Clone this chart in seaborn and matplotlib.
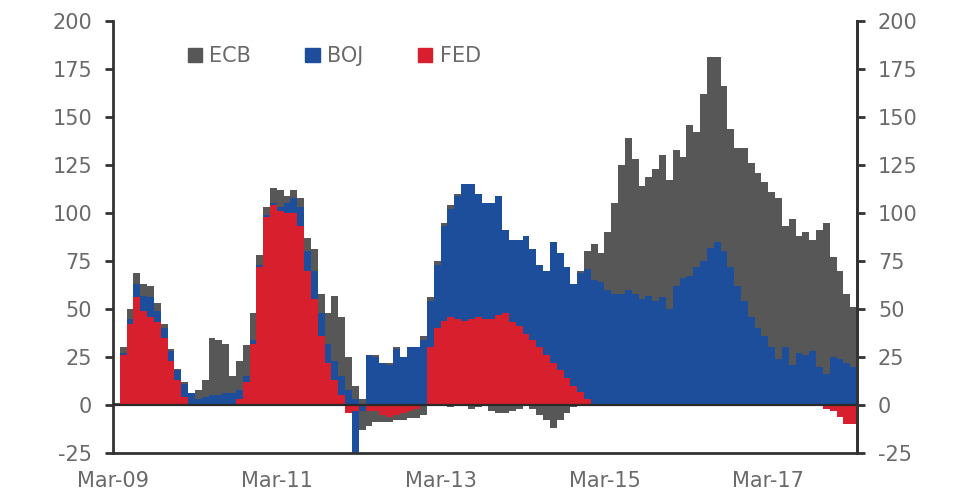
import numpy as np
import pandas as pd
import matplotlib
matplotlib.use("Agg")
import matplotlib.pyplot as plt
import seaborn as sns
from matplotlib.patches import Patch

# monthly bars, Mar-09 .. Mar-18
months = pd.date_range("2009-03-01", "2018-03-01", freq="MS")

# positive contributions
fed_pos = [0, 26, 42, 56, 49, 46, 43, 35, 23, 13, 4, 0,
           0, 0, 0, 0, 0, 0, 3, 12, 32, 72, 98, 104,
           101, 100, 100, 93, 70, 55, 36, 22, 13, 5, 0, 0,
           0, 0, 0, 0, 0, 0, 0, 0, 0, 0, 30, 40,
           44, 46, 45, 44, 45, 46, 45, 45, 47, 48, 43, 41,
           37, 34, 30, 26, 22, 18, 14, 10, 7, 3, 0, 0,
           0, 0, 0, 0, 0, 0, 0, 0, 0, 0, 0, 0,
           0, 0, 0, 0, 0, 0, 0, 0, 0, 0, 0, 0,
           0, 0, 0, 0, 0, 0, 0, 0, 0, 0, 0, 0,
           0]
boj_pos = [0, 1, 3, 7, 8, 10, 6, 5, 5, 5, 7, 6,
           3, 4, 5, 5, 6, 6, 5, 3, 2, 1, 1, 1,
           2, 5, 8, 10, 10, 15, 12, 10, 10, 10, 8, 3,
           0, 26, 25, 22, 21, 29, 25, 30, 30, 34, 24, 33,
           49, 56, 64, 71, 70, 64, 60, 60, 62, 43, 43, 45,
           51, 47, 43, 44, 63, 61, 58, 53, 62, 68, 65, 64,
           60, 58, 58, 60, 58, 55, 57, 54, 56, 50, 62, 66,
           67, 72, 75, 82, 85, 80, 72, 62, 54, 46, 40, 36,
           30, 24, 30, 21, 27, 26, 28, 20, 16, 25, 24, 22,
           20]
ecb_pos = [1, 3, 5, 6, 6, 6, 4, 2, 1, 1, 1, 0,
           5, 9, 30, 29, 26, 9, 15, 16, 14, 5, 4, 8,
           9, 4, 4, 5, 7, 11, 10, 16, 34, 31, 17, 7,
           3, 0, 1, 0, 1, 1, 0, 0, 0, 2, 2, 2,
           2, 2, 1, 0, 0, 0, 0, 0, 0, 0, 0, 0,
           0, 0, 0, 0, 0, 0, 0, 0, 1, 9, 19, 15,
           30, 47, 67, 79, 70, 59, 62, 69, 74, 67, 71, 63,
           79, 70, 87, 99, 96, 86, 72, 72, 80, 80, 81, 80,
           81, 84, 63, 76, 61, 64, 58, 71, 79, 52, 46, 36,
           31]

# negative contributions
fed_neg = [0] * 34 + [-4, -3, 0, -3, -3, -5, -6, -5, -4, -3, -2, 0] + [0] * 58 + [-2, -3, -6, -10, -10]
boj_neg = [0] * 35 + [-25, -3] + [0] * 72
ecb_neg = ([0] * 36 + [-10, -8, -6, -4, -3, -3, -4, -4, -5, -5, 0, 0,
                       0, -1, 0, 0, -2, -1, 0, -3, -4, -4, -3, -2,
                       0, -2, -5, -8, -12, -8, -4, -1] + [0] * 41)

year_ticks = ["Mar-09", "", "Mar-11", "", "Mar-13", "", "Mar-15", "", "Mar-17", ""]

GREY = "#575757"
BLUE = "#1c4e9b"
RED = "#d71f2d"
TXT = "#6a6a6a"

sns.set_style("white")
plt.rcParams["font.family"] = ["DejaVu Sans"]
plt.rcParams["axes.unicode_minus"] = False

df = pd.DataFrame({"date": months, "FED": fed_pos, "BOJ": boj_pos, "ECB": ecb_pos,
                   "FED_n": fed_neg, "BOJ_n": boj_neg, "ECB_n": ecb_neg})
x = np.arange(len(df))

fig = plt.figure(figsize=(9.56, 5.01), dpi=100)
ax = fig.add_axes([0.1182, 0.0958, 0.7783, 0.8623])

pos_base = np.zeros(len(df))
neg_base = np.zeros(len(df))
for name, color in [("FED", RED), ("BOJ", BLUE), ("ECB", GREY)]:
    ax.bar(x, df[name], bottom=pos_base, width=1.0, align="edge", color=color, linewidth=0)
    pos_base += df[name].values
    ax.bar(x, df[name + "_n"], bottom=neg_base, width=1.0, align="edge", color=color, linewidth=0)
    neg_base += df[name + "_n"].values

ax.axhline(0, color="#2a2a2a", lw=1.6, zorder=3)
ax.set_xlim(0, len(df))
ax.set_ylim(-25, 200)
ax.set_yticks(np.arange(-25, 201, 25))
ax.set_xticks(np.arange(0, len(df), 12))
ax.set_xticklabels(year_ticks)

ax.spines["top"].set_visible(False)
for side in ["left", "right", "bottom"]:
    ax.spines[side].set_color("#333333")
    ax.spines[side].set_linewidth(2)

ax.tick_params(axis="y", direction="out", length=6, width=2, color="#333333",
               labelsize=15, labelcolor=TXT, pad=9)
ax.tick_params(axis="x", direction="out", length=5, width=2, color="#333333",
               labelsize=15, labelcolor=TXT, pad=8)

ax2 = ax.twinx()
ax2.set_ylim(-25, 200)
ax2.set_yticks(np.arange(-25, 201, 25))
for side in ["top", "left", "bottom"]:
    ax2.spines[side].set_visible(False)
ax2.spines["right"].set_color("#333333")
ax2.spines["right"].set_linewidth(2)
ax2.tick_params(axis="y", direction="out", length=6, width=2, color="#333333",
                labelsize=15, labelcolor=TXT, pad=9)

handles = [Patch(color=GREY, label="ECB"), Patch(color=BLUE, label="BOJ"), Patch(color=RED, label="FED")]
ax.legend(handles=handles, ncol=3, frameon=False, loc="upper left", bbox_to_anchor=(0.075, 0.985),
          handlelength=0.7, handleheight=0.7, handletextpad=0.35, columnspacing=2.6,
          fontsize=15, labelcolor=TXT)

fig.savefig("out.png", dpi=100)
